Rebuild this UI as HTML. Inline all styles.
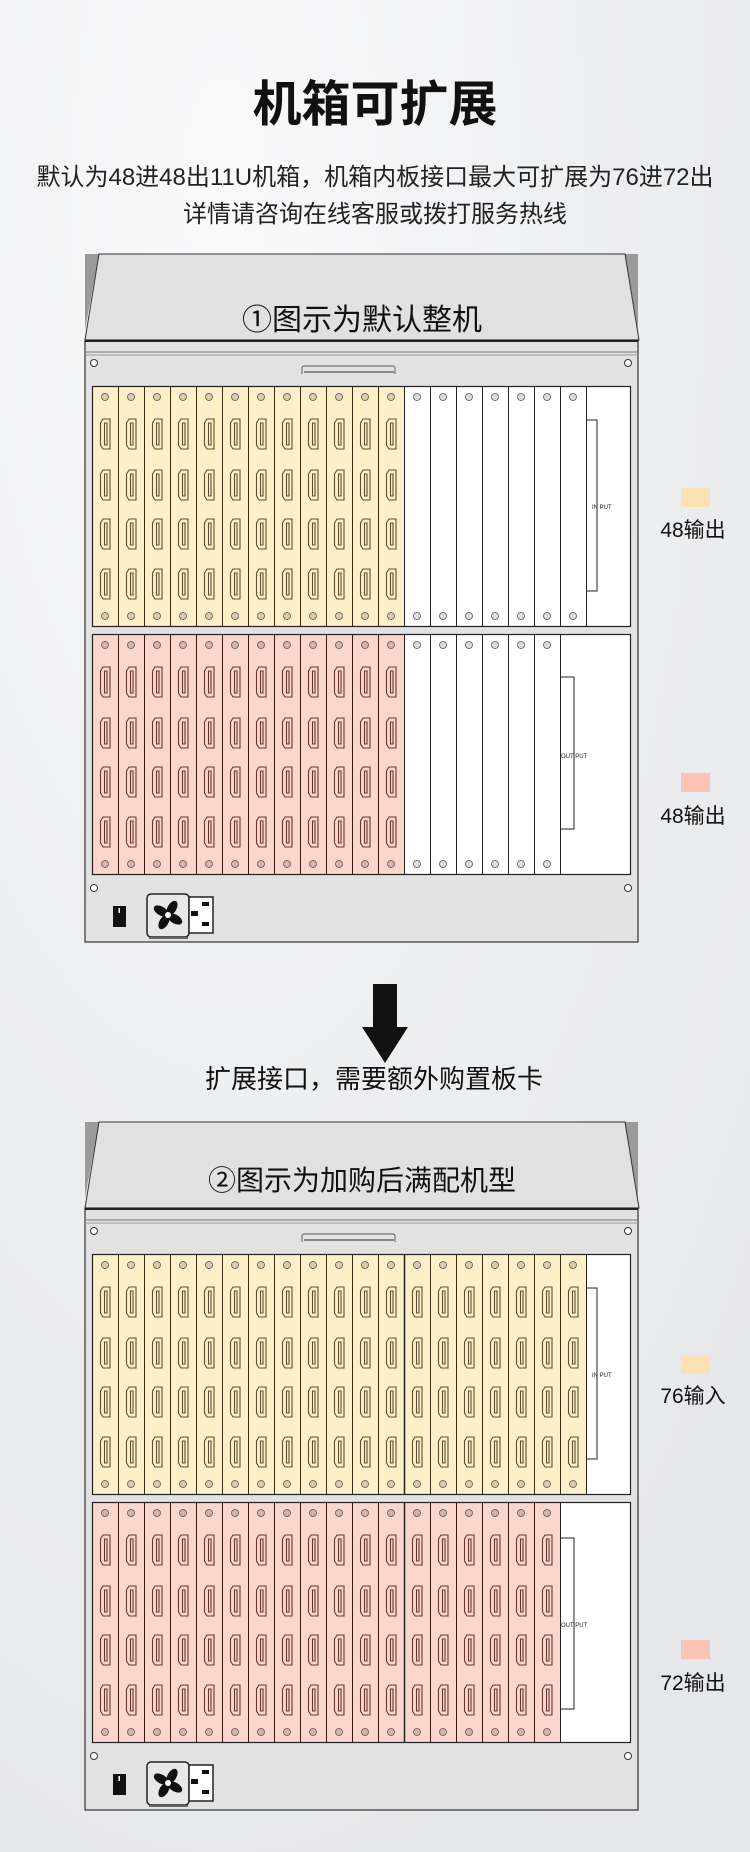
<!DOCTYPE html>
<html><head><meta charset="utf-8">
<style>
html,body{margin:0;padding:0;background:#eeeff1;}
svg{display:block;}
text{font-family:"Liberation Sans","Noto Sans CJK SC",sans-serif;}
</style></head>
<body>
<svg width="750" height="1852" viewBox="0 0 750 1852" xmlns="http://www.w3.org/2000/svg">
<defs>
<radialGradient id="bg" cx="0.3" cy="0.1" r="1">
<stop offset="0" stop-color="#fafafb"/><stop offset="0.5" stop-color="#eeeff1"/><stop offset="1" stop-color="#e6e7ea"/>
</radialGradient>
<g id="ports">
<path d="M8.5,37 L11,33 L18,33 L18,63 L11,63 L8.5,59 Z M12.5,37 h2.5 v22 h-2.5 z"/>
<path d="M8.5,88 L11,84 L18,84 L18,114 L11,114 L8.5,110 Z M12.5,88 h2.5 v22 h-2.5 z"/>
<path d="M8.5,137 L11,133 L18,133 L18,163 L11,163 L8.5,159 Z M12.5,137 h2.5 v22 h-2.5 z"/>
<path d="M8.5,187 L11,183 L18,183 L18,213 L11,213 L8.5,209 Z M12.5,187 h2.5 v22 h-2.5 z"/>
</g>
<pattern id="pY" patternUnits="userSpaceOnUse" width="26" height="241">
<rect x="0" y="0" width="26" height="241" fill="#fdf0c8"/>
<line x1="0.5" y1="0" x2="0.5" y2="241" stroke="#3a2a10" stroke-width="1"/>
<circle cx="13" cy="11" r="3.5" fill="#d9cba7" stroke="#555" stroke-width="0.8"/>
<circle cx="13" cy="230" r="3.5" fill="#d9cba7" stroke="#555" stroke-width="0.8"/>
<g fill="none" stroke="#5e4e30" stroke-width="1.1"><use href="#ports"/></g>
</pattern>
<pattern id="pP" patternUnits="userSpaceOnUse" width="26" height="241">
<rect x="0" y="0" width="26" height="241" fill="#fbd6cc"/>
<line x1="0.5" y1="0" x2="0.5" y2="241" stroke="#3a1a10" stroke-width="1"/>
<circle cx="13" cy="11" r="3.5" fill="#d8b2a9" stroke="#555" stroke-width="0.8"/>
<circle cx="13" cy="230" r="3.5" fill="#d8b2a9" stroke="#555" stroke-width="0.8"/>
<g fill="none" stroke="#653530" stroke-width="1.1"><use href="#ports"/></g>
</pattern>
<pattern id="pW" patternUnits="userSpaceOnUse" width="26" height="241">
<rect x="0" y="0" width="26" height="241" fill="#fff"/>
<line x1="0.5" y1="0" x2="0.5" y2="241" stroke="#222" stroke-width="1"/>
<circle cx="13" cy="11" r="3.5" fill="#ddd" stroke="#555" stroke-width="0.8"/>
<circle cx="13" cy="230" r="3.5" fill="#ddd" stroke="#555" stroke-width="0.8"/>
</pattern>
<g id="frame">
<polygon points="85,254 99,254 85,330" fill="#9a9a9a"/>
<polygon points="638,254 625,254 638,330" fill="#9a9a9a"/>
<polygon points="99,254 625,254 639,340 85,340" fill="#e1e1e2" stroke="#333" stroke-width="1"/>
<rect x="85" y="340" width="553" height="602" fill="#e2e2e3" stroke="#333" stroke-width="1.2"/>
<line x1="85" y1="341" x2="638" y2="341" stroke="#222" stroke-width="2"/>
<line x1="85" y1="352" x2="638" y2="352" stroke="#777" stroke-width="1"/>
<line x1="85" y1="355" x2="638" y2="355" stroke="#999" stroke-width="1"/>
<circle cx="94" cy="363" r="3.5" fill="#fff" stroke="#333"/>
<circle cx="628" cy="363" r="3.5" fill="#fff" stroke="#333"/>
<path d="M302,374 L302,368 Q302,366 305,366 L392,366 Q395,366 395,368 L395,374" fill="none" stroke="#777" stroke-width="1.2"/>
<line x1="304" y1="372" x2="394" y2="372" stroke="#888" stroke-width="2"/>
<circle cx="94" cy="888" r="3.5" fill="#fff" stroke="#333"/>
<circle cx="628" cy="888" r="3.5" fill="#fff" stroke="#333"/>
<rect x="113" y="906" width="13" height="21" fill="#111"/>
<rect x="118.5" y="908" width="1.5" height="5" fill="#fff"/>
<rect x="147" y="894" width="42" height="43" rx="4" fill="#e8e8e8" stroke="#222" stroke-width="1.5"/>
<line x1="149" y1="938" x2="188" y2="938" stroke="#666" stroke-width="2"/>
<g transform="translate(168,915)" fill="#111">
<ellipse cx="0" cy="-8" rx="4.5" ry="8" transform="rotate(30)"/>
<ellipse cx="0" cy="-8" rx="4.5" ry="8" transform="rotate(120)"/>
<ellipse cx="0" cy="-8" rx="4.5" ry="8" transform="rotate(210)"/>
<ellipse cx="0" cy="-8" rx="4.5" ry="8" transform="rotate(300)"/>
<circle r="3" fill="#fff"/>
</g>
<rect x="189" y="897" width="24" height="36" fill="#fff" stroke="#222" stroke-width="1.5"/>
<rect x="191" y="911" width="7" height="5" fill="#111"/>
<rect x="202" y="902" width="7" height="4" fill="#111"/>
<rect x="202" y="922" width="7" height="4" fill="#111"/>
</g>
</defs>
<rect width="750" height="1852" fill="url(#bg)"/>

<text x="375" y="121" font-size="49" font-weight="bold" text-anchor="middle" fill="#111">机箱可扩展</text>
<text x="375" y="185" font-size="24" text-anchor="middle" fill="#222">默认为48进48出11U机箱，机箱内板接口最大可扩展为76进72出</text>
<text x="375" y="222" font-size="24" text-anchor="middle" fill="#222">详情请咨询在线客服或拨打服务热线</text>

<use href="#frame"/>
<text x="362" y="330" font-size="30" text-anchor="middle" fill="#111">①图示为默认整机</text>
<g transform="translate(92,386)">
<rect x="0" y="0" width="539" height="241" fill="#fff"/>
<rect x="0" y="0" width="312" height="241" fill="url(#pY)"/>
<rect x="312" y="0" width="182" height="241" fill="url(#pW)"/>
<line x1="494.5" y1="0" x2="494.5" y2="241" stroke="#222"/>
<path d="M494,34 h11 v171 h-11" fill="none" stroke="#222"/>
<text x="500" y="123" font-size="6" fill="#222">IN PUT</text>
<rect x="0.5" y="0.5" width="538" height="240" fill="none" stroke="#222" stroke-width="1.2"/>
</g>
<g transform="translate(92,634)">
<rect x="0" y="0" width="539" height="241" fill="#fff"/>
<rect x="0" y="0" width="312" height="241" fill="url(#pP)"/>
<rect x="312" y="0" width="156" height="241" fill="url(#pW)"/>
<line x1="468.5" y1="0" x2="468.5" y2="241" stroke="#222"/>
<path d="M468,43 h14 v152 h-14" fill="none" stroke="#222"/>
<text x="469" y="124" font-size="6" fill="#222">OUT PUT</text>
<rect x="0.5" y="0.5" width="538" height="240" fill="none" stroke="#222" stroke-width="1.2"/>
</g>
<rect x="681" y="488" width="29" height="19" fill="#fde3b4"/>
<text x="693" y="537" font-size="21" text-anchor="middle" fill="#111">48输出</text>
<rect x="681" y="773" width="29" height="19" fill="#fbc5b5"/>
<text x="693" y="823" font-size="21" text-anchor="middle" fill="#111">48输出</text>

<polygon points="373,984 397,984 397,1027 408,1027 385,1063 362,1027 373,1027" fill="#111"/>
<text x="374" y="1088" font-size="26" text-anchor="middle" fill="#111">扩展接口，需要额外购置板卡</text>

<g transform="translate(0,868)"><use href="#frame"/></g>
<text x="362" y="1190" font-size="28" text-anchor="middle" fill="#111">②图示为加购后满配机型</text>
<g transform="translate(92,1254)">
<rect x="0" y="0" width="539" height="241" fill="#fff"/>
<rect x="0" y="0" width="494" height="241" fill="url(#pY)"/>
<line x1="312.5" y1="0" x2="312.5" y2="241" stroke="#222" stroke-width="1.5"/>
<line x1="494.5" y1="0" x2="494.5" y2="241" stroke="#222"/>
<path d="M494,34 h11 v171 h-11" fill="none" stroke="#222"/>
<text x="500" y="123" font-size="6" fill="#222">IN PUT</text>
<rect x="0.5" y="0.5" width="538" height="240" fill="none" stroke="#222" stroke-width="1.2"/>
</g>
<g transform="translate(92,1502)">
<rect x="0" y="0" width="539" height="241" fill="#fff"/>
<rect x="0" y="0" width="468" height="241" fill="url(#pP)"/>
<line x1="312.5" y1="0" x2="312.5" y2="241" stroke="#222" stroke-width="1.5"/>
<line x1="468.5" y1="0" x2="468.5" y2="241" stroke="#222"/>
<path d="M468,36 h14 v171 h-14" fill="none" stroke="#222"/>
<text x="469" y="125" font-size="6" fill="#222">OUT PUT</text>
<rect x="0.5" y="0.5" width="538" height="240" fill="none" stroke="#222" stroke-width="1.2"/>
</g>
<rect x="681" y="1355" width="29" height="19" fill="#fde3b4"/>
<text x="693" y="1403" font-size="21" text-anchor="middle" fill="#111">76输入</text>
<rect x="681" y="1640" width="29" height="19" fill="#fbc5b5"/>
<text x="693" y="1690" font-size="21" text-anchor="middle" fill="#111">72输出</text>
</svg>
</body></html>
